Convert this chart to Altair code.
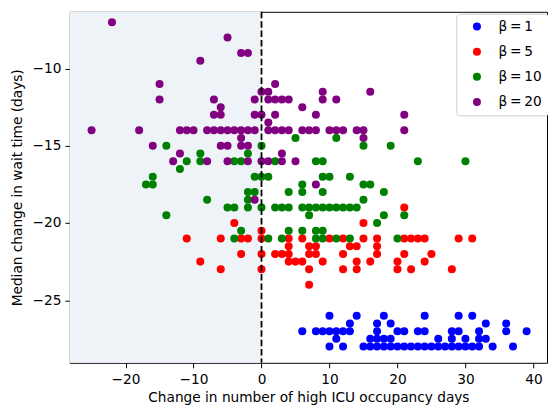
import altair as alt
import pandas as pd

# Axis extents (data units)
X_MIN, X_MAX = -28.2, 42.0
Y_MIN, Y_MAX = -29.05, -6.33

X_TICKS = [-20, -10, 0, 10, 20, 30, 40]
Y_TICKS = [-25, -20, -15, -10]

SERIES = ["β\u2009=\u20091", "β\u2009=\u20095", "β\u2009=\u200910", "β\u2009=\u200920"]
COLORS = ["#0000ff", "#ff0000", "#008000", "#800080"]

# y value (median change in wait time) -> list of x values (change in high-ICU days)
BETA1 = {
    -26.0: [10, 14, 18, 24, 29, 31],
    -26.5: [13, 17, 19, 33, 36],
    -27.0: [6, 8, 9, 10, 11, 12, 13, 17, 20, 21, 23, 24, 28, 29, 32, 36, 39],
    -27.5: [11, 16, 17, 18, 19, 26, 28, 30, 32, 33],
    -28.0: [10, 12, 15, 16, 17, 18, 19, 20, 21, 22, 23, 24, 25, 26, 27, 28,
            29, 30, 31, 32, 34, 37],
}

BETA5 = {
    -19.0: [21],
    -20.0: [-4, 15],
    -20.5: [0],
    -21.0: [-11, -6, -3, -2, 0, 4, 6, 10, 12, 15, 17, 21, 22, 23, 24, 29, 31],
    -21.5: [4, 7, 8, 13, 14, 17],
    -22.0: [-3, 0, 2, 3, 4, 7, 8, 12, 17, 21, 25],
    -22.5: [-9, 4, 5, 6, 9, 14, 16, 20, 24],
    -23.0: [-6, 0, 7, 12, 14, 20, 22, 28],
    -24.0: [7],
}

BETA10 = {
    -14.5: [5, 11],
    -15.0: [-14, 0, 15, 19],
    -15.5: [-9, -2],
    -16.0: [-11, -9, -4, -3, 2, 8, 9, 23, 30],
    -16.5: [-12],
    -17.0: [-16, -1, 0, 1, 9, 10, 13],
    -17.5: [-17, -16, 6, 15, 16],
    -18.0: [-2, -1, 4, 6, 9, 18],
    -18.5: [-8, -2, 15],
    -19.0: [-5, -4, -2, 0, 2, 3, 4, 6, 7, 8, 9, 10, 11, 12, 13, 14],
    -19.5: [-14, 7, 18, 21],
    -20.0: [17],
    -20.5: [-3, 4, 6, 8, 9],
    -21.0: [-4, 1, 3, 8, 9, 11, 13, 20],
}

BETA20 = {
    -7.0: [-22],
    -8.0: [-5],
    -9.0: [-3, -2],
    -9.5: [-9],
    -11.0: [-15, 2],
    -11.5: [0, 1, 9, 16],
    -12.0: [-15, -7, -1, 1, 2, 3, 4, 9, 11],
    -12.5: [-6, 6],
    -13.0: [-7, -6, -1, 0, 2, 8, 21],
    -13.5: [1],
    -14.0: [-25, -18, -12, -11, -10, -8, -7, -6, -5, -4, -3, -2, -1, 1, 2, 3,
            4, 6, 7, 8, 10, 11, 12, 14, 15, 21],
    -14.5: [-3, 15],
    -15.0: [-16, -6, -5, -3, -2],
    -15.5: [-12, 3],
    -16.0: [-13, -8, -5, -2, 0, 1, 3, 5],
    -17.5: [8],
    -18.5: [-1],
}

rows = []
idx = 0
for name, table in zip(SERIES, [BETA1, BETA5, BETA10, BETA20]):
    for yv, xs in table.items():
        for xv in xs:
            rows.append({"x": xv, "y": yv, "beta": name, "idx": idx})
            idx += 1
df = pd.DataFrame(rows)

W, H = 484, 356
FONT = "DejaVu Sans"
FS = 13.9
MINUS = "replace(datum.label, '-', '\u2212')"

x_scale = alt.Scale(domain=[X_MIN, X_MAX], nice=False, zero=False)
y_scale = alt.Scale(domain=[Y_MIN, Y_MAX], nice=False, zero=False)

x_axis = alt.Axis(values=X_TICKS, title="Change in number of high ICU occupancy days",
                  labelExpr=MINUS, grid=False, domain=False, tickSize=5,
                  labelPadding=5, titlePadding=4)
y_axis = alt.Axis(values=Y_TICKS, title="Median change in wait time (days)",
                  labelExpr=MINUS, grid=False, domain=False, tickSize=5,
                  labelPadding=4, titlePadding=8)

span = alt.Chart(pd.DataFrame({"x0": [0]})).mark_rect(color="#eef3f8").encode(
    x=alt.X("x0:Q", scale=x_scale, axis=x_axis),
    x2=alt.value(0),
    y=alt.value(0),
    y2=alt.value(H),
)

points = alt.Chart(df).mark_circle(size=66, opacity=1).encode(
    x=alt.X("x:Q", scale=x_scale, axis=x_axis),
    y=alt.Y("y:Q", scale=y_scale, axis=y_axis),
    color=alt.Color("beta:N", scale=alt.Scale(domain=SERIES, range=COLORS),
                    legend=alt.Legend(title=None, orient="none", legendX=392, legendY=2,
                                      direction="vertical")),
    order=alt.Order("idx:Q"),
)

rule = alt.Chart(pd.DataFrame({"x0": [0]})).mark_rule(
    color="black", strokeDash=[6.6, 2.9], strokeWidth=1.8
).encode(x=alt.X("x0:Q", scale=x_scale))

chart = alt.layer(span, points, rule).properties(
    width=W, height=H,
    autosize=alt.AutoSizeParams(type="none"),
    padding={"left": 62.7, "top": 1, "right": 1, "bottom": 46},
).configure_view(
    stroke="black", strokeWidth=1
).configure_axis(
    labelFont=FONT, titleFont=FONT, labelFontSize=FS, titleFontSize=FS,
    titleFontWeight="normal", labelColor="black", titleColor="black",
    tickColor="black", tickWidth=1,
).configure_legend(
    labelFont=FONT, labelFontSize=FS, labelColor="black",
    fillColor="white", strokeColor="#cccccc", cornerRadius=3, padding=6,
    symbolType="circle", symbolSize=66, symbolStrokeWidth=0, rowPadding=10.5,
    labelOffset=15, symbolOffset=8,
)

chart.save("out.html", embed_options={"renderer": "svg", "actions": False})
